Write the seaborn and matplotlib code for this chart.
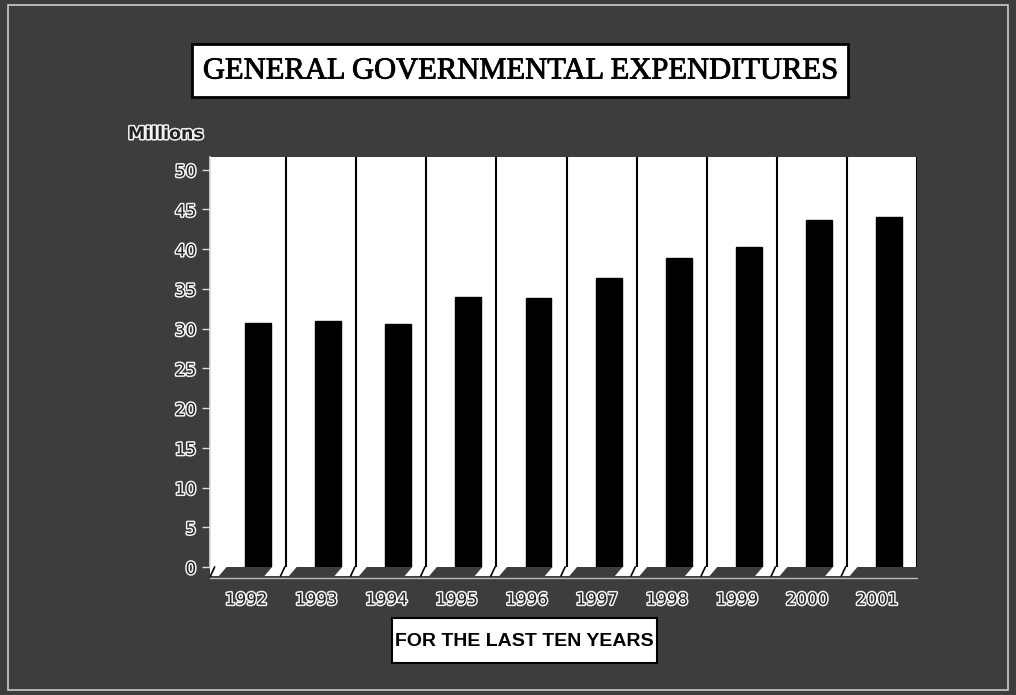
import matplotlib
matplotlib.use("Agg")
import matplotlib.pyplot as plt
import matplotlib.patheffects as pe
import numpy as np
import pandas as pd
import seaborn as sns

# Data (millions)
YEARS = ["1992", "1993", "1994", "1995", "1996", "1997", "1998", "1999", "2000", "2001"]
EXPENDITURES = [30.7, 31.0, 30.6, 34.0, 33.9, 36.4, 38.9, 40.3, 43.7, 44.1]
Y_TICKS = [0, 5, 10, 15, 20, 25, 30, 35, 40, 45, 50]

BG = "#3d3d3d"
W, H = 1016, 695

df = pd.DataFrame({"year": YEARS, "value": EXPENDITURES})

sns.set_theme(style="white")
fig = plt.figure(figsize=(W / 100, H / 100), dpi=100)
fig.patch.set_facecolor(BG)

# outlined "hollow" lettering used for the axis labels
outline = [pe.withStroke(linewidth=2.2, foreground="#f2f2f2")]


def fig_box(x0, y0, x1, y1, lw):
    # rectangle given in pixel coords (top-left origin)
    r = plt.Rectangle((x0 / W, 1 - y1 / H), (x1 - x0) / W, (y1 - y0) / H,
                      transform=fig.transFigure, facecolor="white",
                      edgecolor="black", linewidth=lw, zorder=1)
    fig.patches.append(r)


# plot area (white back wall)
ax = fig.add_axes([210 / W, 1 - 567 / H, (917 - 210) / W, (567 - 157) / H])
ax.set_facecolor("white")

sns.barplot(data=df, x="year", y="value", color="black", width=0.37,
            saturation=1, ax=ax, zorder=3)
for p in ax.patches:
    p.set_edgecolor("black")

ax.set_xlim(-0.686, 9.4)
ax.set_ylim(0, 51.6)

# vertical separators between the categories
for k in range(len(YEARS)):
    ax.axvline(k + 0.4, color="black", lw=1.5, zorder=2)

for s in ax.spines.values():
    s.set_visible(False)
ax.spines["left"].set_visible(True)
ax.spines["left"].set_color("#dddddd")
ax.spines["left"].set_linewidth(1.2)

ax.set_xlabel("")
ax.set_ylabel("")
ax.set_yticks(Y_TICKS)
ax.set_yticklabels([str(t) for t in Y_TICKS], fontsize=12, color="#222222",
                   path_effects=outline)
ax.tick_params(axis="y", length=6, width=1, color="#dddddd", pad=4, left=True)
ax.set_xticks(np.arange(len(YEARS)) - 0.17)
ax.set_xticklabels(YEARS, fontsize=12, color="#222222", path_effects=outline)
ax.tick_params(axis="x", length=0, pad=17)

# little white floor edges in front of each category (3-D look)
trans = ax.get_xaxis_transform()
x_left = -0.686
for k in range(len(YEARS)):
    xs = [max(k - 0.80, x_left), k - 0.45, k - 0.56, max(k - 0.91, x_left)]
    ys = [0, 0, -0.022, -0.022]
    poly = plt.Polygon(list(zip(xs, ys)), closed=True, transform=trans,
                       facecolor="white", edgecolor="none", clip_on=False)
    ax.add_patch(poly)
    ax.plot([k - 0.62, k - 0.68], [0, -0.022], transform=trans,
            color="black", lw=1.2, clip_on=False)
ax.plot([x_left, 9.4], [-0.026, -0.026], transform=trans, color="#bbbbbb",
        lw=1, clip_on=False)

# title box
fig_box(192, 44, 848, 97, 2)
fig.text(520 / W, 1 - 71 / H, "GENERAL GOVERNMENTAL EXPENDITURES",
         ha="center", va="center", fontsize=22, family="Liberation Serif",
         color="black", path_effects=[pe.withStroke(linewidth=0.6, foreground="black")])

# axis unit label
fig.text(166 / W, 1 - 134 / H, "Millions", ha="center", va="center",
         fontsize=12.5, fontweight="bold", color="#222222", path_effects=outline)

# bottom caption box
fig_box(392, 618, 657, 663, 1.5)
fig.text(524 / W, 1 - 641 / H, "FOR THE LAST TEN YEARS", ha="center",
         va="center", fontsize=14, fontweight="bold", family="Liberation Sans",
         color="black")

# thin frame round the whole picture
frame = plt.Rectangle((8 / W, 5 / H), 1 - 16 / W, 1 - 10 / H,
                      transform=fig.transFigure, fill=False,
                      edgecolor="#cccccc", linewidth=1.2)
fig.patches.append(frame)

fig.savefig("out.png", dpi=100, facecolor=BG)
